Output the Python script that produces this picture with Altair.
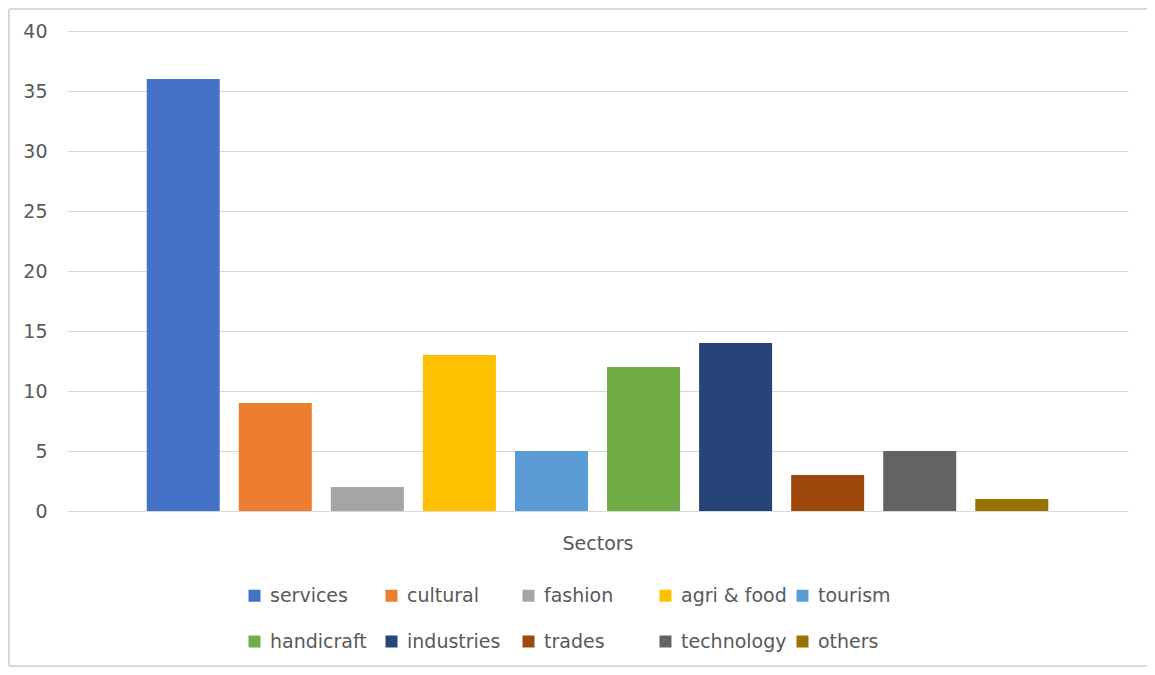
import altair as alt
import pandas as pd

sectors = ["services", "cultural", "fashion", "agri & food", "tourism",
           "handicraft", "industries", "trades", "technology", "others"]
counts = [36, 9, 2, 13, 5, 12, 14, 3, 5, 1]
colors = ["#4472C4", "#ED7D31", "#A5A5A5", "#FFC000", "#5B9BD5",
          "#70AD47", "#264478", "#9E480E", "#636363", "#997300"]
y_ticks = [0, 5, 10, 15, 20, 25, 30, 35, 40]

df = pd.DataFrame({"sector": sectors, "count": counts})

W, H = 1061, 480
PAD = {"left": 59, "top": 23, "right": 19, "bottom": 156}
FONT = "DejaVu Sans"
TXT = "#595959"

bars = alt.Chart(df).mark_bar().encode(
    x=alt.X("sector:N", sort=sectors,
            scale=alt.Scale(paddingInner=0.207, paddingOuter=0.866),
            axis=alt.Axis(title="Sectors", labels=False, ticks=False, domain=False,
                          titleFont=FONT, titleFontSize=19, titleFontWeight="normal",
                          titleColor=TXT, titlePadding=23)),
    y=alt.Y("count:Q", scale=alt.Scale(domain=[0, 40], nice=False),
            axis=alt.Axis(title=None, values=y_ticks, ticks=False, tickSize=0, domain=False,
                          labelFont=FONT, labelFontSize=19, labelColor=TXT,
                          labelPadding=20, gridColor="#D9D9D9", gridWidth=1)),
    color=alt.Color("sector:N", sort=sectors,
                    scale=alt.Scale(domain=sectors, range=colors),
                    legend=alt.Legend(title=None, orient="none", legendX=178, legendY=555,
                                      direction="horizontal",
                                      columns=5, gridAlign="all", columnPadding=6,
                                      rowPadding=26, symbolType="square", symbolSize=144,
                                      symbolStrokeWidth=0, labelOffset=6,
                                      labelFont=FONT, labelFontSize=19, labelColor=TXT,
                                      labelLimit=300)),
)

one = pd.DataFrame({"k": [0]})
L = -PAD["left"] + 1
T = -PAD["top"] + 1
R = W + PAD["right"] + 20
B = H + PAD["bottom"] - 1
frame_style = dict(color="#D9D9D9", strokeWidth=2)
top_edge = alt.Chart(one).mark_rule(**frame_style).encode(
    x=alt.value(L), x2=alt.value(R), y=alt.value(T))
bottom_edge = alt.Chart(one).mark_rule(**frame_style).encode(
    x=alt.value(L), x2=alt.value(R), y=alt.value(B))
left_edge = alt.Chart(one).mark_rule(**frame_style).encode(
    x=alt.value(L), y=alt.value(T), y2=alt.value(B))

chart = alt.layer(top_edge, bottom_edge, left_edge, bars).properties(
    width=W, height=H,
    autosize=alt.AutoSizeParams(type="none"),
    padding=PAD,
    background="white",
).configure_view(stroke=None)

chart.save("out.html", embed_options={"renderer": "svg", "actions": False})
